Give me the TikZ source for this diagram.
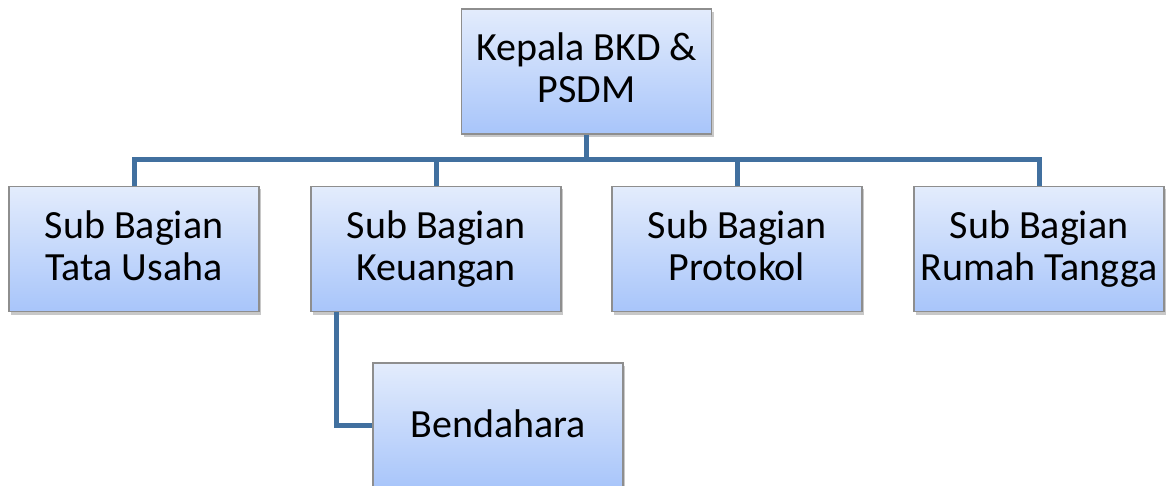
\documentclass[tikz,border=0pt]{standalone}
\usepackage{fontspec}
\setmainfont{Carlito}
\usetikzlibrary{shadows}
\definecolor{topc}{HTML}{E3ECFC}
\definecolor{botc}{HTML}{A8C5FA}
\definecolor{edge}{HTML}{8E8E8E}
\definecolor{linec}{HTML}{41709F}
\newcommand{\hstr}{\rule{0pt}{30pt}}
\newcommand{\dstr}{\rule[-10pt]{0pt}{10pt}}
\tikzset{
  orgbox/.style={draw=edge, line width=1.2pt, top color=topc, bottom color=botc,
    minimum width=250pt, minimum height=125pt, align=center, inner sep=0pt,
    font=\fontsize{40}{42}\selectfont,
    drop shadow={shadow xshift=2pt, shadow yshift=-3pt, opacity=0.3, fill=black!70}},
  conn/.style={draw=linec, line width=5pt}
}
\begin{document}
\begin{tikzpicture}[x=1pt,y=-1pt]
\useasboundingbox (0,0) rectangle (1166,486);
\clip (0,0) rectangle (1166,486);
\fill[white] (0,0) rectangle (1166,486);
\coordinate (bus) at (0,160);
\node[orgbox] (top) at (586.5,71.5) {\hstr Kepala BKD \&\\PSDM\dstr};
\node[orgbox] (b1) at (134,249) {\hstr Sub Bagian\\Tata Usaha\dstr};
\node[orgbox] (b2) at (436,249) {\hstr Sub Bagian\\Keuangan\dstr};
\node[orgbox] (b3) at (737,249) {\hstr Sub Bagian\\Protokol\dstr};
\node[orgbox] (b4) at (1039,249) {\hstr Sub Bagian\\Rumah Tangga\dstr};
\node[orgbox] (bend) at (498,425.5) {\rule{0pt}{32pt}Bendahara\rule[-9pt]{0pt}{9pt}};
\draw[conn] (b1.north) -- (b1.north |- bus) -- (b4.north |- bus) -- (b4.north);
\draw[conn] (top.south) -- (top.south |- bus);
\draw[conn] (b2.north) -- (b2.north |- bus);
\draw[conn] (b3.north) -- (b3.north |- bus);
\draw[conn] ([xshift=26pt]b2.south west) |- (bend.west);
\end{tikzpicture}
\end{document}
